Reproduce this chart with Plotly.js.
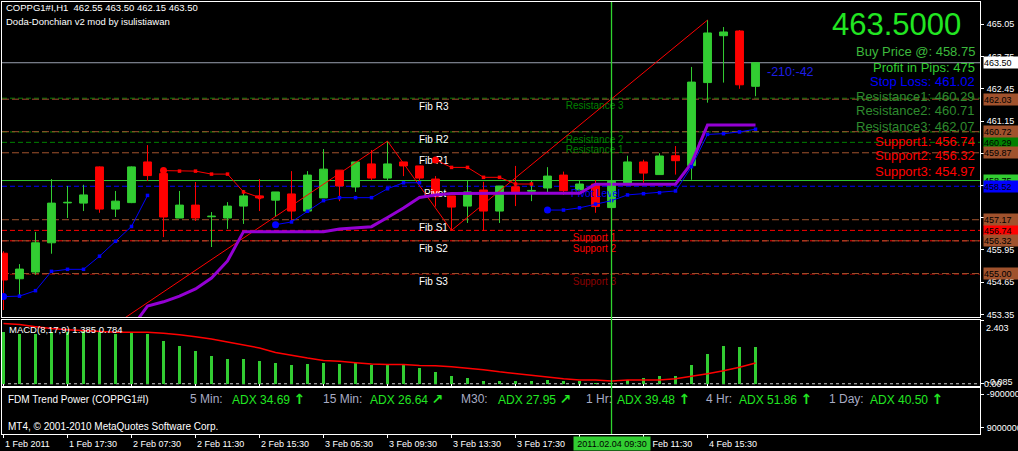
<!DOCTYPE html>
<html>
<head>
<meta charset="utf-8">
<script src="https://cdn.plot.ly/plotly-3.0.1.min.js"></script>
<style>
  html, body { margin: 0; padding: 0; background: #000; }
  #chart { width: 1018px; height: 451px; }
</style>
</head>
<body>
<div id="chart"></div>
<script>
// ---- COPPG1#I, H1 bars ----
const barIndex = Array.from({length: 48}, (_, i) => i);
const openPx  = [455.82,454.79,455.06,456.24,457.85,457.84,459.30,457.60,457.86,459.50,459.03,457.24,457.76,457.29,457.24,457.72,458.13,457.96,458.21,457.52,458.05,459.17,458.49,459.42,458.85,459.50,459.34,458.81,458.13,457.72,458.37,457.52,458.50,458.32,458.45,458.97,458.37,458.61,457.66,458.58,459.50,458.99,459.75,459.35,462.70,464.59,464.78,462.55];
const highPx  = [455.90,455.38,456.68,458.81,458.53,458.58,459.32,458.33,459.32,460.18,459.10,458.33,458.69,457.48,457.88,458.37,458.81,458.29,459.13,459.13,460.02,459.17,459.50,459.98,460.34,459.50,459.34,458.93,458.13,458.77,458.70,458.53,459.34,458.73,459.29,459.11,458.77,458.77,458.75,459.75,459.59,459.85,460.14,463.33,465.22,464.94,464.82,463.50];
const lowPx   = [453.53,454.09,454.95,455.80,457.24,457.52,457.45,457.28,457.84,458.73,456.47,457.24,457.12,456.07,456.80,457.00,457.52,457.28,457.12,457.52,458.05,457.92,458.29,458.77,458.73,458.93,458.65,457.70,456.74,457.04,456.72,457.04,457.72,457.92,458.26,458.17,458.37,457.45,457.60,458.58,458.66,458.99,458.99,458.78,461.89,462.70,462.45,462.15];
const closePx = [454.74,455.18,456.24,457.84,457.87,458.17,457.60,457.92,459.30,458.95,457.28,457.76,457.24,457.31,457.72,458.13,458.05,458.29,457.52,458.97,459.21,458.53,459.50,458.85,459.42,459.34,458.85,458.10,457.68,458.29,457.52,458.53,458.30,458.35,458.93,458.34,458.61,457.70,458.72,459.50,459.05,459.74,459.55,462.72,464.70,464.74,462.61,463.50];

// Doda-Donchian stop lines (lower = blue, upper = red) and trend line
const lowerStop = [454.07,454.09,454.31,455.09,455.17,455.17,455.70,456.30,456.90,458.15,
  null,null,null,null,null,null,null,
  456.97,457.08,457.51,457.94,458.06,458.06,458.06,458.42,458.66,458.66,
  null,null,null,null,null,null,null,
  457.56,457.56,457.65,457.80,457.94,458.17,458.22,458.26,458.33,459.31,460.61,460.64,460.71,460.82];
const upperStop = [null,null,null,null,null,null,null,null,null,null,
  459.15,459.13,459.13,459.01,459.01,458.29,458.07,
  null,null,null,null,null,null,null,null,null,null,
  459.58,459.28,459.28,458.88,458.88,458.61,458.61,
  null,null,null,null,null,null,null,null,null,null,null,null,null,null];
const trendLine = [null,null,null,null,null,null,null,null,
  452.80,453.69,453.86,454.09,454.38,454.82,455.51,456.69,456.69,456.69,456.69,456.69,456.69,
  456.80,456.84,456.89,457.26,457.64,458.07,458.17,458.23,
  458.24,458.24,458.24,458.24,458.24,458.24,458.24,458.24,
  458.60,458.60,458.60,458.60,458.60,458.60,459.45,460.99,460.99,460.99,460.99];

// ZigZag swing points
const zigzagBars   = [0, 24, 28, 44];
const zigzagPrices = [449.92, 460.34, 456.74, 465.22];

// MACD(8,17,9)
const macdMain   = [1.94,1.86,1.86,1.94,1.94,1.99,1.94,1.86,1.90,1.86,1.60,1.41,1.22,1.03,0.95,0.92,0.84,0.80,0.69,0.73,0.77,0.73,0.77,0.69,0.69,0.69,0.58,0.43,0.28,0.20,0.09,0.12,0.09,0.09,0.16,0.12,0.09,0.02,0.02,0.16,0.20,0.28,0.31,0.69,1.14,1.41,1.37,1.385];
const macdSignal = [2.27,2.23,2.15,2.08,2.04,2.00,1.96,1.94,1.94,1.94,1.90,1.85,1.77,1.69,1.57,1.45,1.35,1.18,1.07,0.97,0.88,0.85,0.79,0.74,0.73,0.73,0.69,0.68,0.64,0.59,0.53,0.45,0.38,0.32,0.25,0.19,0.14,0.14,0.10,0.14,0.14,0.14,0.19,0.28,0.38,0.49,0.62,0.784];
const macdMax = 2.403, macdMin = -0.085;

// Pivot levels
const fibNames  = ['Fib R3','Fib R2','Fib R1','Pivot','Fib S1','Fib S2','Fib S3'];
const fibValues = [462.03, 460.72, 459.87, 458.52, 457.17, 456.32, 455.00];
const resNames  = ['Resistance 3','Resistance 2','Resistance 1'];
const resValues = [462.07, 460.71, 460.29];
const supNames  = ['Support 1','Support 2','Support 3'];
const supValues = [456.74, 456.32, 454.97];
const pivotValue = 458.52;
const buyPrice = 458.75, stopLoss = 461.02, profitPips = 475, lastPrice = 463.50;
const spreadText = '-210:-42';

// Time axis
const tickBars   = [0,4,8,12,16,20,24,28,32,36,40,44];
const tickLabels = ['1 Feb 2011','1 Feb 17:30','2 Feb 07:30','2 Feb 11:30','2 Feb 15:30','3 Feb 05:30','3 Feb 09:30','3 Feb 13:30','3 Feb 17:30','4 Feb 07:30','4 Feb 11:30','4 Feb 15:30'];
const cursorBar = 38, cursorLabel = '2011.02.04 09:30';

// Price axis
const priceTicks = [453.35,454.65,455.95,457.25,458.55,459.85,461.15,462.45,463.75,465.05];

// Trend power panel
const tfNames  = ['5 Min:','15 Min:','M30:','1 Hr:','4 Hr:','1 Day:'];
const adxValues = [34.69, 26.64, 27.95, 39.48, 51.86, 40.50];
const adxArrows = ['↑','↗','↗','↑','↑','↑'];

// ---- styling ----
const FONT = 'Liberation Sans, Arial, sans-serif';
const UP = '#32cd32', DOWN = '#ff0000', SIENNA = '#a0522d', DKGREEN = '#008000';
const W = 978, H = 432;
const px = v => (v - 2) / W;       // page x -> paper x
const py = v => (434 - v) / H;     // page y -> paper y

const traces = [];

// level captions, kept under the bars
const labelTrace = (xs, ys, texts, color) => ({
  type: 'scatter', mode: 'markers+text', x: xs, y: ys, text: texts,
  textposition: 'bottom right', marker: {size: 4, opacity: 0},
  textfont: {family: FONT, size: 10, color: color}, hoverinfo: 'skip', showlegend: false
});
traces.push(labelTrace(fibNames.map(n => n === 'Pivot' ? 26.06 : 25.75), fibValues, fibNames, '#ffffff'));
traces.push(labelTrace(resNames.map(() => 34.92), resValues, resNames, DKGREEN));
traces.push(labelTrace(supNames.slice(0, 2).map(() => 35.36), supValues.slice(0, 2), supNames.slice(0, 2), '#ff0000'));
traces.push(labelTrace([35.36], [supValues[2]], [supNames[2]], '#8b0000'));
traces.push(labelTrace([35.25], [pivotValue], ['Pivot Level'], '#0000ff'));

// zigzag
traces.push({type: 'scatter', mode: 'lines', x: zigzagBars, y: zigzagPrices,
  line: {color: '#ff0000', width: 1}, hoverinfo: 'skip', showlegend: false});

// trend line
traces.push({type: 'scatter', mode: 'lines', x: barIndex, y: trendLine,
  line: {color: '#9400d3', width: 3}, hoverinfo: 'skip', showlegend: false, connectgaps: false});

// stop lines with bar markers and a dot where each run begins
function stopTraces(vals, color) {
  const sx = [], sy = [];
  vals.forEach((v, i) => { if (v !== null && (i === 0 || vals[i - 1] === null)) { sx.push(i); sy.push(v); } });
  return [
    {type: 'scatter', mode: 'lines+markers', x: barIndex, y: vals, connectgaps: false,
     line: {color: color, width: 1}, marker: {symbol: 'square', size: 3.5, color: color},
     hoverinfo: 'skip', showlegend: false},
    {type: 'scatter', mode: 'markers', x: sx, y: sy,
     marker: {symbol: 'circle', size: 7, color: color}, hoverinfo: 'skip', showlegend: false}
  ];
}
traces.push(...stopTraces(lowerStop, '#0000ff'));
traces.push(...stopTraces(upperStop, '#ff0000'));

// bars
traces.push({type: 'candlestick', x: barIndex, open: openPx, high: highPx, low: lowPx, close: closePx,
  increasing: {line: {color: UP, width: 1}, fillcolor: UP},
  decreasing: {line: {color: DOWN, width: 1}, fillcolor: DOWN},
  whiskerwidth: 0, hoverinfo: 'skip', showlegend: false});

// MACD panel
traces.push({type: 'bar', x: barIndex, y: macdMain, xaxis: 'x', yaxis: 'y2',
  width: 0.13, marker: {color: UP, line: {width: 0}}, hoverinfo: 'skip', showlegend: false});
traces.push({type: 'scatter', mode: 'lines', x: barIndex, y: macdSignal, xaxis: 'x', yaxis: 'y2',
  line: {color: '#ff0000', width: 1.5}, hoverinfo: 'skip', showlegend: false});

// empty trace to hold the trend power panel
traces.push({type: 'scatter', mode: 'lines', x: [0], y: [0], xaxis: 'x', yaxis: 'y3',
  line: {color: 'rgba(0,0,0,0)'}, hoverinfo: 'skip', showlegend: false});

// ---- shapes ----
const shapes = [];
const hline = (v, color, dash, yref) => ({type: 'line', xref: 'paper', x0: 0, x1: 1, yref: yref || 'y',
  y0: v, y1: v, line: {color: color, width: 1, dash: dash}, layer: 'below'});
resValues.forEach(v => shapes.push(hline(v, DKGREEN, '5px,3px')));
supValues.forEach((v, i) => shapes.push(hline(v, i < 2 ? '#ff0000' : '#8b0000', '5px,3px')));
fibValues.forEach((v, i) => { if (fibNames[i] !== 'Pivot') shapes.push(hline(v, SIENNA, '7px,3px')); });
shapes.push(hline(pivotValue, '#0000ff', '5px,3px'));
shapes.push(hline(buyPrice, UP, 'solid'));
shapes.push(hline(lastPrice, '#9aa0b0', 'solid'));
shapes.push(hline(0, '#c8c8c8', '3px,3px', 'y2'));
// cursor line through all panels
shapes.push({type: 'line', xref: 'x', x0: cursorBar, x1: cursorBar, yref: 'paper', y0: 0, y1: 1,
  line: {color: '#2fd42f', width: 1.3}, layer: 'above'});

// ---- annotations ----
const ann = [];
const txt = (o) => Object.assign({showarrow: false, xref: 'paper', yref: 'paper', xanchor: 'left', yanchor: 'middle',
  font: {family: FONT, size: 10, color: '#ffffff'}}, o);

// header
ann.push(txt({x: px(4), y: py(8), text: 'COPPG1#I,H1  ' + [462.55, 463.50, 462.15, lastPrice].map(v => v.toFixed(2)).join(' '), font: {family: FONT, size: 9.5, color: '#ffffff'}}));
ann.push(txt({x: px(4), y: py(21), text: 'Doda-Donchian v2 mod by isulistiawan', font: {family: FONT, size: 9.5, color: '#ffffff'}}));

// price readout block
ann.push(txt({x: px(963), xanchor: 'right', y: py(25), text: lastPrice.toFixed(4), font: {family: FONT, size: 31, color: '#22e622'}}));
const infoLines = [
  ['Buy Price @: ' + buyPrice.toFixed(2), '#3cb83c'],
  ['Profit in Pips: ' + profitPips, '#32cd32'],
  ['Stop Loss: ' + stopLoss.toFixed(2), '#0000ff'],
  ['Resistance1: ' + resValues[2].toFixed(2), '#2e8b2e'],
  ['Resistance2: ' + resValues[1].toFixed(2), '#2e8b2e'],
  ['Resistance3: ' + resValues[0].toFixed(2), '#2e8b2e'],
  ['Support1: ' + supValues[0].toFixed(2), '#ff0000'],
  ['Support2: ' + supValues[1].toFixed(2), '#ff0000'],
  ['Support3: ' + supValues[2].toFixed(2), '#ff0000']
];
const infoY = [51.7, 67.7, 81.3, 96.7, 111, 126, 141.7, 155.7, 171];
infoLines.forEach((l, i) => ann.push(txt({x: px(977), xanchor: 'right', y: py(infoY[i]), text: l[0],
  font: {family: FONT, size: 13, color: l[1]}})));

// spread readout next to the last bar
ann.push({showarrow: false, xref: 'x', yref: 'y', x: 47.6, y: 463.14, xanchor: 'left', yanchor: 'middle',
  text: spreadText, font: {family: FONT, size: 12.5, color: '#1e1ee6'}});

// price tags on the axis
const tags = [];
tags.push([resValues[2], DKGREEN, '#000000']);
tags.push([supValues[0], '#ff0000', '#000000']);
fibValues.forEach((v, i) => { if (fibNames[i] !== 'Pivot') tags.push([v, SIENNA, '#000000']); });
tags.push([buyPrice, UP, '#000000']);
tags.push([pivotValue, '#0000ff', '#000000']);
tags.push([lastPrice, '#ffffff', '#000000']);
tags.forEach(t => ann.push({showarrow: false, xref: 'paper', yref: 'y', x: px(983), y: t[0],
  xanchor: 'left', yanchor: 'middle', text: t[0].toFixed(2), bgcolor: t[1], borderpad: 0,
  width: 36, height: 11, align: 'left', font: {family: FONT, size: 9, color: t[2]}}));

// axis tick labels that sit under a tag are left blank
const priceTickText = priceTicks.map(v => tags.some(t => Math.abs(t[0] - v) < 0.2) ? '' : v.toFixed(2));

// MACD captions
ann.push(txt({x: px(7), y: py(329), text: 'MACD(8,17,9) ' + macdMain[47].toFixed(3) + ' ' + macdSignal[47].toFixed(3), font: {family: FONT, size: 9.5, color: '#ffffff'}}));
ann.push({showarrow: false, xref: 'paper', yref: 'y2', x: px(984), y: macdMax, xanchor: 'left', yanchor: 'top',
  yshift: -1, text: macdMax.toFixed(3), font: {family: FONT, size: 9, color: '#ffffff'}});
ann.push({showarrow: false, xref: 'paper', yref: 'y2', x: px(985), y: 0, xanchor: 'left', yanchor: 'middle',
  yshift: 2, text: macdMin.toFixed(3), font: {family: FONT, size: 9, color: '#ffffff'}});
ann.push({showarrow: false, xref: 'paper', yref: 'y2', x: px(982), y: 0, xanchor: 'left', yanchor: 'middle',
  text: '0.00', font: {family: FONT, size: 9, color: '#ffffff'}});

// trend power panel
ann.push(txt({x: px(6), y: py(399), text: 'FDM Trend Power (COPPG1#I)'}));
ann.push(txt({x: px(6), y: py(426.5), text: 'MT4, © 2001-2010 MetaQuotes Software Corp.'}));
const tfX  = [188, 321, 459, 584, 704, 827];
const adxX = [230, 368, 496, 615, 737, 868];
tfNames.forEach((n, i) => {
  ann.push(txt({x: px(tfX[i]), y: py(399), text: n, font: {family: FONT, size: 12, color: '#a8acc4'}}));
  ann.push(txt({x: px(adxX[i]), y: py(399), text: 'ADX ' + adxValues[i].toFixed(2) +
    ' <span style="font-family:DejaVu Sans;font-size:14px;font-weight:bold">' + adxArrows[i] + '</span>',
    font: {family: FONT, size: 12, color: '#22e622'}}));
});

// time axis labels (the ones fully under the cursor tag are skipped)
tickBars.forEach((b, i) => {
  if (b < cursorBar && cursorBar - b < 3) return;
  ann.push({showarrow: false, xref: 'x', yref: 'paper', x: b, y: 0,
    xanchor: 'left', yanchor: 'top', yshift: -3, xshift: -1, text: tickLabels[i],
    font: {family: FONT, size: 9, color: '#ffffff'}});
});
ann.push({showarrow: false, xref: 'x', yref: 'paper', x: cursorBar, y: 0, xanchor: 'center', yanchor: 'top',
  yshift: -2, text: cursorLabel, bgcolor: UP, borderpad: 0, width: 76, height: 13,
  font: {family: FONT, size: 9, color: '#000000'}});

// ---- layout ----
const axisCommon = {showgrid: false, zeroline: false, showline: true, linecolor: '#ffffff', linewidth: 1,
  ticks: 'outside', ticklen: 3, tickcolor: '#ffffff', fixedrange: true,
  tickfont: {family: FONT, size: 9, color: '#ffffff'}};

const layout = {
  width: 1018, height: 451,
  margin: {l: 2, r: 38, t: 2, b: 17, pad: 0},
  paper_bgcolor: '#000000', plot_bgcolor: '#000000',
  showlegend: false, bargap: 0, hovermode: false,
  xaxis: Object.assign({}, axisCommon, {range: [-0.094, 61.03], anchor: 'y3', mirror: 'all',
    tickvals: tickBars, showticklabels: false, rangeslider: {visible: false}}),
  yaxis: Object.assign({}, axisCommon, {domain: [py(317), 1], range: [453.248, 465.949], side: 'right',
    mirror: true, anchor: 'x', tickvals: priceTicks, ticktext: priceTickText, ticklabelstandoff: 1}),
  yaxis2: Object.assign({}, axisCommon, {domain: [py(386), py(320)], range: [macdMin, macdMax], side: 'right',
    mirror: true, anchor: 'x', tickvals: [macdMax, 0], showticklabels: false}),
  yaxis3: Object.assign({}, axisCommon, {domain: [0, py(388)], range: [12200000, -12200000], side: 'right',
    mirror: true, anchor: 'x', tickvals: [-9000000, 9000000], ticktext: ['-9000000', '9000000'], ticklabelstandoff: 1}),
  shapes: shapes,
  annotations: ann
};

Plotly.newPlot('chart', traces, layout, {staticPlot: true, displayModeBar: false});
</script>
</body>
</html>
